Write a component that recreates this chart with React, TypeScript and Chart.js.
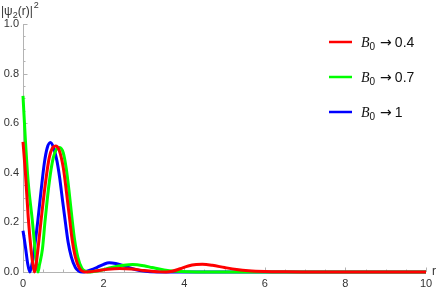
import React, { useEffect, useRef } from "react";
import { Chart, registerables } from "chart.js";

Chart.register(...registerables);

// r values and |psi_2(r)|^2 values
const rRed = [0, 0.06, 0.13, 0.2, 0.245, 0.285, 0.325, 0.37, 0.45, 0.55, 0.65, 0.73, 0.81, 0.9, 1.0, 1.08, 1.16, 1.22, 1.3, 1.4, 1.48, 1.56, 1.65, 1.8, 2.1, 2.4, 2.7, 3.0, 3.25, 3.4, 3.55, 3.7, 3.9, 4.1, 4.3, 4.45, 4.7, 5.0, 5.3, 5.6, 6.0, 6.5, 7.0, 7.5, 10];
const psiRed = [0.525, 0.4, 0.22, 0.09, 0.03, 0.0, 0.03, 0.09, 0.21, 0.35, 0.46, 0.5, 0.508, 0.49, 0.42, 0.32, 0.21, 0.13, 0.06, 0.015, 0.003, 0.0, 0.001, 0.004, 0.011, 0.014, 0.012, 0.006, 0.002, 0.0005, 0.0, 0.003, 0.013, 0.024, 0.03, 0.031, 0.027, 0.018, 0.01, 0.005, 0.002, 0.0007, 0.0002, 0, 0];

const rGreen = [0, 0.06, 0.13, 0.23, 0.3, 0.335, 0.37, 0.41, 0.48, 0.55, 0.65, 0.75, 0.83, 0.91, 1.0, 1.07, 1.14, 1.22, 1.28, 1.36, 1.46, 1.55, 1.64, 1.75, 1.9, 2.2, 2.5, 2.72, 3.0, 3.2, 3.5, 3.8, 4.1, 4.5, 10];
const psiGreen = [0.71, 0.53, 0.36, 0.21, 0.09, 0.03, 0.0, 0.03, 0.09, 0.21, 0.36, 0.46, 0.495, 0.502, 0.48, 0.42, 0.33, 0.21, 0.13, 0.06, 0.015, 0.003, 0.0, 0.002, 0.006, 0.018, 0.027, 0.03, 0.025, 0.018, 0.008, 0.003, 0.001, 0, 0];

const rBlue = [0, 0.035, 0.07, 0.12, 0.17, 0.22, 0.28, 0.37, 0.45, 0.53, 0.6, 0.68, 0.76, 0.84, 0.91, 0.98, 1.06, 1.12, 1.2, 1.3, 1.38, 1.47, 1.56, 1.7, 1.85, 2.0, 2.14, 2.3, 2.5, 2.7, 2.9, 3.1, 3.4, 3.8, 10];
const psiBlue = [0.166, 0.13, 0.09, 0.03, 0.0, 0.03, 0.09, 0.21, 0.33, 0.44, 0.5, 0.522, 0.5, 0.45, 0.38, 0.29, 0.19, 0.12, 0.06, 0.018, 0.004, 0.0, 0.002, 0.009, 0.02, 0.031, 0.037, 0.034, 0.025, 0.014, 0.006, 0.002, 0.0003, 0, 0];

const legendValues = ["0.4", "0.7", "1"];
const seriesColors = ["#ff0000", "#00ff00", "#0000ff"];

const toPoints = (xs: number[], ys: number[]) => xs.map((x, i) => ({ x, y: ys[i] }));

const FONT = "'Liberation Sans', Arial, sans-serif";

const framePlugin = {
  id: "frame",
  beforeDatasetsDraw(chart: any) {
    const ctx = chart.ctx;
    const xs = chart.scales.x;
    const ys = chart.scales.y;
    const x0 = xs.getPixelForValue(0);
    const y0 = ys.getPixelForValue(0);
    ctx.save();
    ctx.strokeStyle = "#b3b3b3";
    ctx.lineWidth = 1;
    ctx.beginPath();
    ctx.moveTo(x0 + 0.5, ys.getPixelForValue(1));
    ctx.lineTo(x0 + 0.5, y0 + 0.5);
    ctx.lineTo(xs.getPixelForValue(10), y0 + 0.5);
    ctx.stroke();
    for (let i = 0; i <= 20; i++) {
      const v = i * 0.5;
      const px = Math.round(xs.getPixelForValue(v)) + 0.5;
      const len = i % 4 === 0 ? 4.5 : 2.5;
      ctx.beginPath();
      ctx.moveTo(px, y0);
      ctx.lineTo(px, y0 - len);
      ctx.stroke();
    }
    for (let i = 0; i <= 20; i++) {
      const v = i * 0.05;
      const py = Math.round(ys.getPixelForValue(v)) + 0.5;
      const len = i % 4 === 0 ? 4.5 : 2.5;
      ctx.beginPath();
      ctx.moveTo(x0, py);
      ctx.lineTo(x0 + len, py);
      ctx.stroke();
    }
    ctx.restore();
  },
  afterDraw(chart: any) {
    const ctx = chart.ctx;
    const y0 = chart.scales.y.getPixelForValue(0);
    ctx.save();
    ctx.fillStyle = "#333";
    ctx.textBaseline = "alphabetic";
    ctx.font = `12px ${FONT}`;
    ctx.textAlign = "left";
    let x = 1;
    const base = 15;
    ctx.fillText("|ψ", x, base);
    x += ctx.measureText("|ψ").width;
    ctx.font = `9px ${FONT}`;
    ctx.fillText("2", x, base + 3);
    x += ctx.measureText("2").width;
    ctx.font = `12px ${FONT}`;
    ctx.fillText("(r)|", x, base);
    x += ctx.measureText("(r)|").width + 1;
    ctx.font = `9px ${FONT}`;
    ctx.fillText("2", x, base - 7);
    ctx.font = `12px ${FONT}`;
    ctx.fillText("r", 432, y0 + 3);
    ctx.restore();

    ctx.save();
    const rows = [42, 77, 112];
    rows.forEach((ly, i) => {
      ctx.strokeStyle = seriesColors[i];
      ctx.lineWidth = 2.5;
      ctx.beginPath();
      ctx.moveTo(329, ly);
      ctx.lineTo(352, ly);
      ctx.stroke();
      ctx.fillStyle = "#111";
      ctx.textAlign = "left";
      ctx.textBaseline = "alphabetic";
      let tx = 361;
      const tb = ly + 5;
      ctx.font = `italic 14px 'Liberation Serif', 'DejaVu Serif', serif`;
      ctx.fillText("B", tx, tb);
      tx += ctx.measureText("B").width;
      ctx.font = `10px ${FONT}`;
      ctx.fillText("0", tx, tb + 3);
      tx += ctx.measureText("0").width + 5;
      ctx.font = `14px 'DejaVu Sans', ${FONT}`;
      ctx.fillText("→", tx, tb);
      tx += ctx.measureText("→").width + 3;
      ctx.font = `14px ${FONT}`;
      ctx.fillText(legendValues[i], tx, tb);
    });
    ctx.restore();
  },
};

export default function App() {
  const ref = useRef<HTMLCanvasElement | null>(null);
  useEffect(() => {
    document.body.style.margin = "0";
    const makeDs = (xs: number[], ys: number[], color: string) => ({
      data: toPoints(xs, ys),
      borderColor: color,
      backgroundColor: color,
      borderWidth: 3,
      pointRadius: 0,
      cubicInterpolationMode: "monotone" as const,
      clip: false as any,
      fill: false,
    });
    const chart = new Chart(ref.current as HTMLCanvasElement, {
      type: "line",
      data: {
        datasets: [
          makeDs(rRed, psiRed, seriesColors[0]),
          makeDs(rGreen, psiGreen, seriesColors[1]),
          makeDs(rBlue, psiBlue, seriesColors[2]),
        ],
      },
      options: {
        animation: false,
        responsive: false,
        devicePixelRatio: 1,
        layout: { padding: { left: 0, right: 16, top: 24, bottom: 0 } },
        plugins: { legend: { display: false }, tooltip: { enabled: false } },
        scales: {
          x: {
            type: "linear",
            min: 0,
            max: 10,
            grid: { display: false, drawTicks: false },
            border: { display: false },
            ticks: {
              stepSize: 2,
              padding: 5,
              color: "#333",
              font: { family: FONT, size: 11 },
              maxRotation: 0,
            },
            afterFit: (s: any) => {
              s.height = 20;
            },
          },
          y: {
            type: "linear",
            min: 0,
            max: 1,
            grid: { display: false, drawTicks: false },
            border: { display: false },
            ticks: {
              stepSize: 0.2,
              padding: 4,
              color: "#333",
              font: { family: FONT, size: 11 },
              callback: (v: any) => Number(v).toFixed(1),
            },
            afterFit: (s: any) => {
              s.width = 23;
            },
          },
        },
      },
      plugins: [framePlugin],
    });
    return () => chart.destroy();
  }, []);
  return (
    <div style={{ position: "absolute", left: 0, top: 0, width: 442, height: 292 }}>
      <canvas ref={ref} width={442} height={292} style={{ width: 442, height: 292 }} />
    </div>
  );
}
